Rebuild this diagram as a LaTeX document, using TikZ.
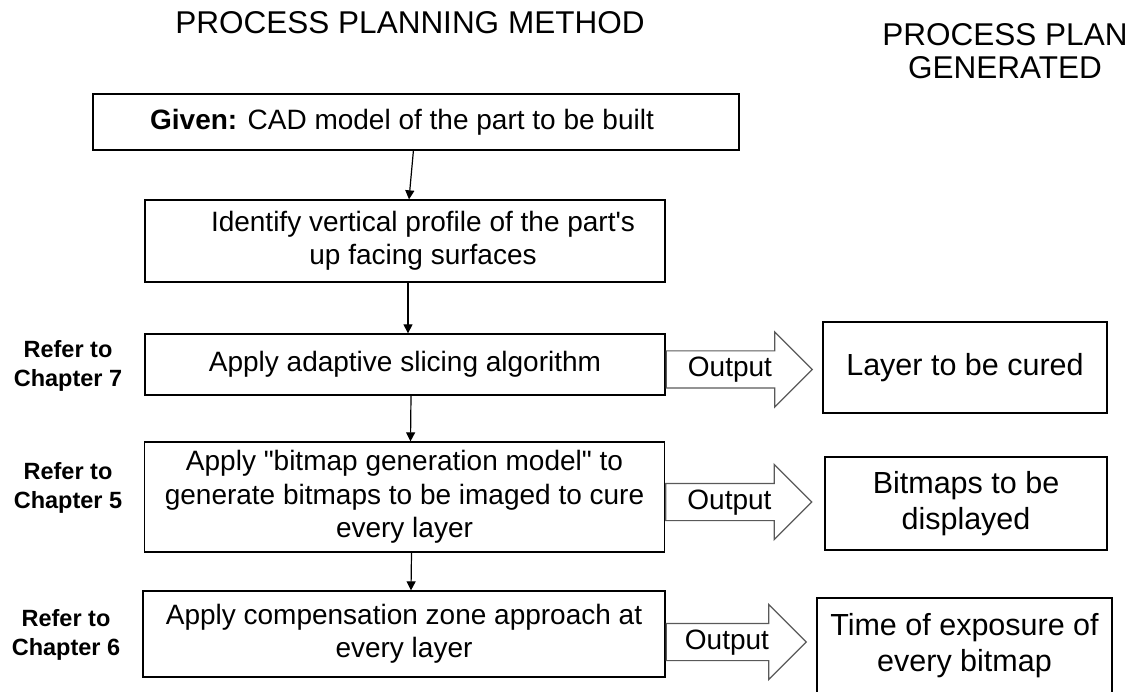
\documentclass[tikz,border=0pt]{standalone}
\usepackage{fontspec}
\setmainfont{Liberation Sans}[Ligatures=TeXOff]
\usetikzlibrary{arrows.meta,positioning,shapes.arrows}

\tikzset{
  stepbox/.style={draw, line width=1.3pt, inner sep=0pt, align=center,
                  font=\fontsize{28}{33.5}\selectfont},
  planbox/.style={draw, line width=1.3pt, inner sep=0pt, align=center,
                  font=\fontsize{30.5}{36}\selectfont},
  refer/.style={align=center, font=\bfseries\fontsize{23.5}{29}\selectfont},
  heading/.style={align=center, font=\fontsize{31.5}{33}\selectfont},
  flow/.style={line width=1.2pt, -{Triangle[width=9pt,length=9pt]}},
  outarrow/.style={single arrow, draw=black!65, line width=1.2pt,
                   single arrow tip angle=90, single arrow head extend=19pt,
                   minimum height=146pt, inner xsep=4pt, inner ysep=5pt,
                   text height=20pt, text depth=6pt, anchor=tail,
                   font=\fontsize{28}{33.5}\selectfont}
}

\begin{document}
\begin{tikzpicture}[x=1pt, y=-1pt]
\useasboundingbox (0,0) rectangle (1135,692);

% column headings
\node[heading] (method) at (410,22.5) {PROCESS PLANNING METHOD};
\node[heading] (plan) at (1005,51.5) {PROCESS PLAN\\GENERATED};

% planning steps
\node[stepbox, minimum width=646pt, minimum height=56pt] (given) at (416,122)
  {\textbf{Given:} CAD model of the part to be built\hspace*{28pt}};
\node[stepbox, minimum width=520pt, minimum height=82pt] (profile) at (405,241)
  {\hspace*{36pt}Identify vertical profile of the part's\\\hspace*{36pt}up facing surfaces};
\node[stepbox, minimum width=520pt, minimum height=61pt] (slicing) at (405,364.5)
  {Apply adaptive slicing algorithm};
\node[stepbox, minimum width=520pt, minimum height=110pt] (bitmap) at (404.5,497)
  {Apply "bitmap generation model" to\\generate bitmaps to be imaged to cure\\every layer};
\node[stepbox, minimum width=522pt, minimum height=86pt] (comp) at (404,634)
  {Apply compensation zone approach at\\every layer};

% chapter references
\node[refer] (ch7) at (68,366) {Refer to\\Chapter 7};
\node[refer] (ch5) at (68,488) {Refer to\\Chapter 5};
\node[refer] (ch6) at (66,635) {Refer to\\Chapter 6};

% generated plan
\node[planbox, minimum width=284pt, minimum height=91pt] (layer) at (965,367.5)
  {Layer to be cured};
\node[planbox, minimum width=282pt, minimum height=93pt] (maps) at (966,503.5)
  {Bitmaps to be\\displayed};
\node[planbox, minimum width=295pt, minimum height=96pt] (exposure) at (964.5,646)
  {Time of exposure of\\every bitmap};

% flow between steps
\draw[flow] (given) -- ([xshift=4pt]profile.north);
\draw[flow] ([xshift=3pt]profile.south) -- ([xshift=3pt]slicing.north);
\draw[flow] ([xshift=6pt]slicing.south) -- ([xshift=6pt]bitmap.north);
\draw[flow] ([xshift=7pt]bitmap.south) -- ([xshift=7pt]comp.north);

% outputs
\node[outarrow] (out1) at ([yshift=-5pt]slicing.east) {Output};
\node[outarrow] (out2) at ([yshift=-5pt]bitmap.east) {Output};
\node[outarrow, minimum height=140pt] (out3) at ([yshift=-8pt]comp.east) {Output};
\end{tikzpicture}
\end{document}
